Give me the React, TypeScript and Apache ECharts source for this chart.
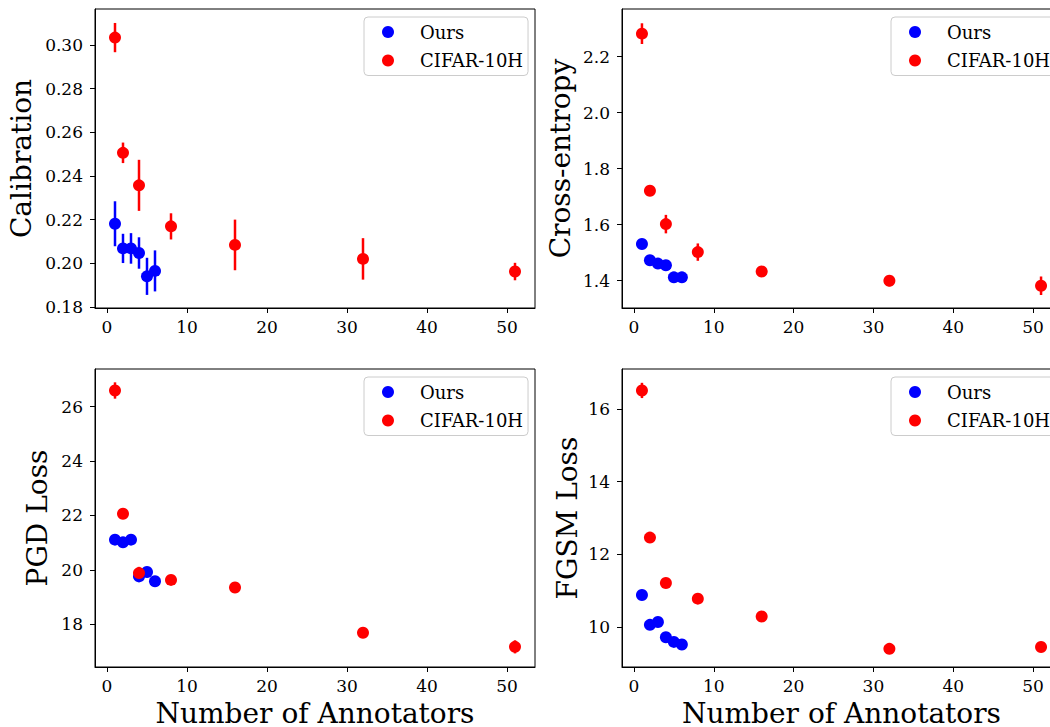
import React, { useEffect, useRef } from "react";
import * as echarts from "echarts";

// ---- Data ----
const annotatorsOurs = [1, 2, 3, 4, 5, 6];
const annotatorsCifar = [1, 2, 4, 8, 16, 32, 51];

const calibOurs = [0.2181, 0.2068, 0.2068, 0.2047, 0.194, 0.1965];
const calibOursErr = [0.0103, 0.0067, 0.007, 0.0072, 0.0085, 0.0094];
const calibCifar = [0.3034, 0.2506, 0.2357, 0.2169, 0.2084, 0.202, 0.1962];
const calibCifarErr = [0.0067, 0.0047, 0.0117, 0.006, 0.0116, 0.0095, 0.004];

const ceOurs = [1.531, 1.473, 1.461, 1.455, 1.412, 1.412];
const ceOursErr = [0.012, 0.01, 0.01, 0.01, 0.01, 0.01];
const ceCifar = [2.282, 1.721, 1.602, 1.502, 1.433, 1.4, 1.382];
const ceCifarErr = [0.037, 0.018, 0.033, 0.031, 0.015, 0.02, 0.033];

const pgdOurs = [21.11, 21.01, 21.11, 19.76, 19.92, 19.58];
const pgdOursErr = [0.1, 0.1, 0.1, 0.1, 0.1, 0.1];
const pgdCifar = [26.59, 22.06, 19.88, 19.63, 19.35, 17.69, 17.17];
const pgdCifarErr = [0.3, 0.12, 0.23, 0.1, 0.1, 0.1, 0.24];

const fgsmOurs = [10.88, 10.06, 10.14, 9.72, 9.59, 9.52];
const fgsmOursErr = [0.08, 0.08, 0.08, 0.08, 0.08, 0.08];
const fgsmCifar = [16.51, 12.46, 11.21, 10.78, 10.29, 9.4, 9.45];
const fgsmCifarErr = [0.21, 0.08, 0.08, 0.08, 0.08, 0.08, 0.08];

const xTicks = [0, 10, 20, 30, 40, 50];
const calibTicks = [0.18, 0.2, 0.22, 0.24, 0.26, 0.28, 0.3];
const ceTicks = [1.4, 1.6, 1.8, 2.0, 2.2];
const pgdTicks = [18, 20, 22, 24, 26];
const fgsmTicks = [10, 12, 14, 16];

const seriesNames = ["Ours", "CIFAR-10H"];
const xAxisTitle = "Number of Annotators";

const FONT = "'DejaVu Serif', serif";
const BLUE = "#0000ff";
const RED = "#ff0000";

type Panel = {
  grid: { left: number; top: number; width: number; height: number };
  yName: string;
  nameGap: number;
  yMin: number;
  yMax: number;
  yTicks: number[];
  decimals: number;
  ours: number[];
  oursErr: number[];
  cifar: number[];
  cifarErr: number[];
  showXName: boolean;
};

const panels: Panel[] = [
  {
    grid: { left: 95, top: 9, width: 440, height: 299 },
    yName: "Calibration", nameGap: 60, yMin: 0.1795, yMax: 0.3165,
    yTicks: calibTicks, decimals: 2,
    ours: calibOurs, oursErr: calibOursErr, cifar: calibCifar, cifarErr: calibCifarErr,
    showXName: false,
  },
  {
    grid: { left: 622, top: 9, width: 439, height: 299 },
    yName: "Cross-entropy", nameGap: 48, yMin: 1.3025, yMax: 2.37,
    yTicks: ceTicks, decimals: 1,
    ours: ceOurs, oursErr: ceOursErr, cifar: ceCifar, cifarErr: ceCifarErr,
    showXName: false,
  },
  {
    grid: { left: 95, top: 369, width: 440, height: 298 },
    yName: "PGD Loss", nameGap: 43.5, yMin: 16.43, yMax: 27.38,
    yTicks: pgdTicks, decimals: 0,
    ours: pgdOurs, oursErr: pgdOursErr, cifar: pgdCifar, cifarErr: pgdCifarErr,
    showXName: true,
  },
  {
    grid: { left: 622, top: 369, width: 439, height: 298 },
    yName: "FGSM Loss", nameGap: 41, yMin: 8.9, yMax: 17.1,
    yTicks: fgsmTicks, decimals: 0,
    ours: fgsmOurs, oursErr: fgsmOursErr, cifar: fgsmCifar, cifarErr: fgsmCifarErr,
    showXName: true,
  },
];

function errSeries(name: string, idx: number, xs: number[], ys: number[], es: number[], color: string) {
  return {
    type: "custom",
    name,
    xAxisIndex: idx,
    yAxisIndex: idx,
    silent: true,
    encode: { x: 0, y: 1 },
    data: xs.map((x, i) => [x, ys[i], es[i]]),
    renderItem: (params: any, api: any) => {
      const x = api.value(0);
      const y = api.value(1);
      const e = api.value(2);
      const p1 = api.coord([x, y - e]);
      const p2 = api.coord([x, y + e]);
      return {
        type: "line",
        shape: { x1: p1[0], y1: p1[1], x2: p2[0], y2: p2[1] },
        style: { stroke: color, lineWidth: 2.5 },
      };
    },
  };
}

export default function App() {
  const ref = useRef<HTMLDivElement>(null);
  useEffect(() => {
    if (!ref.current) return;
    const chart = echarts.init(ref.current, null, { renderer: "svg" });
    const grids: any[] = [];
    const xAxes: any[] = [];
    const yAxes: any[] = [];
    const series: any[] = [];
    const legends: any[] = [];

    panels.forEach((p, i) => {
      grids.push({
        ...p.grid,
        containLabel: false,
        outerBoundsMode: "none",
        show: true,
        borderColor: "#000",
        borderWidth: 1,
        backgroundColor: "transparent",
      });
      xAxes.push({
        type: "value",
        gridIndex: i,
        min: -1.5,
        max: 53.5,
        name: p.showXName ? xAxisTitle : "",
        nameLocation: "middle",
        nameGap: 32.5,
        nameTextStyle: { fontFamily: FONT, fontSize: 28, lineHeight: 27, color: "#000" },
        splitLine: { show: false },
        axisLine: { show: true, onZero: false, lineStyle: { color: "#000", width: 1 } },
        axisTick: { show: true, length: 5, lineStyle: { color: "#000", width: 1 }, customValues: xTicks },
        axisLabel: { fontFamily: FONT, fontSize: 17, color: "#000", margin: 10, customValues: xTicks },
      });
      yAxes.push({
        type: "value",
        gridIndex: i,
        min: p.yMin,
        max: p.yMax,
        name: p.yName,
        nameLocation: "middle",
        nameRotate: 90,
        nameGap: p.nameGap,
        nameTextStyle: { fontFamily: FONT, fontSize: 28, color: "#000" },
        splitLine: { show: false },
        axisLine: { show: true, onZero: false, lineStyle: { color: "#000", width: 1 } },
        axisTick: { show: true, length: 5, lineStyle: { color: "#000", width: 1 }, customValues: p.yTicks },
        axisLabel: {
          fontFamily: FONT, fontSize: 17, color: "#000", margin: 12,
          customValues: p.yTicks,
          formatter: (v: number) => v.toFixed(p.decimals),
        },
      });
      series.push(errSeries("ours-err-" + i, i, annotatorsOurs, p.ours, p.oursErr, BLUE));
      series.push({
        type: "scatter", name: seriesNames[0], xAxisIndex: i, yAxisIndex: i,
        symbol: "circle", symbolSize: 12, itemStyle: { color: BLUE, opacity: 1 },
        data: annotatorsOurs.map((x, k) => [x, p.ours[k]]),
        silent: true,
      });
      series.push(errSeries("cifar-err-" + i, i, annotatorsCifar, p.cifar, p.cifarErr, RED));
      series.push({
        type: "scatter", name: seriesNames[1], xAxisIndex: i, yAxisIndex: i,
        symbol: "circle", symbolSize: 12, itemStyle: { color: RED, opacity: 1 },
        data: annotatorsCifar.map((x, k) => [x, p.cifar[k]]),
        silent: true,
      });
      legends.push({
        data: seriesNames,
        orient: "vertical",
        left: p.grid.left + 269,
        top: p.grid.top + 8,
        icon: "circle",
        itemWidth: 12,
        itemHeight: 12,
        itemGap: 10.5,
        padding: [6, 5, 6, 18],
        backgroundColor: "rgba(255,255,255,0.8)",
        borderColor: "#cccccc",
        borderWidth: 1,
        borderRadius: 4,
        selectedMode: false,
        textStyle: { fontFamily: FONT, fontSize: 18, color: "#000", padding: [0, 0, 0, 21] },
      });
    });

    chart.setOption({
      animation: false,
      backgroundColor: "#fff",
      textStyle: { fontFamily: FONT },
      grid: grids,
      xAxis: xAxes,
      yAxis: yAxes,
      legend: legends,
      series,
    });
    return () => chart.dispose();
  }, []);
  return (
    <div
      ref={ref}
      style={{ position: "fixed", left: 0, top: 0, width: 1050, height: 727, background: "#fff" }}
    />
  );
}
